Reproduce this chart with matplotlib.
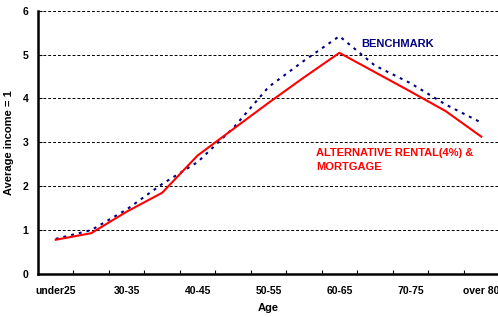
import matplotlib.pyplot as plt
import numpy as np

plt.rcParams['font.family'] = ['Liberation Sans', 'DejaVu Sans']

# age groups (x axis categories)
ages = ['under25', '25-30', '30-35', '35-40', '40-45', '45-50', '50-55',
        '55-60', '60-65', '65-70', '70-75', '75-80', 'over 80']

# values (average income = 1)
benchmark = [0.80, 1.00, 1.47, 2.05, 2.55, 3.32, 4.26, 4.86, 5.42, 4.75, 4.35, 3.86, 3.45]
alternative = [0.78, 0.93, 1.42, 1.85, 2.70, 3.30, 3.90, 4.48, 5.04, 4.60, 4.16, 3.71, 3.13]

x = np.arange(len(ages))

W, H = 498, 317
fig = plt.figure(figsize=(W / 100, H / 100), dpi=100)
ax = fig.add_axes([38 / W, 1 - 274 / H, 1 - 38 / W + 0.002, (274 - 10.7) / H])

# dashed grid lines at each unit
for yv in range(1, 7):
    ax.axhline(yv, color='black', lw=0.7, ls=(0, (3, 2)), zorder=1)

ax.plot(x, benchmark, color='#000080', lw=1.5, ls=(0, (1.4, 2.4)), zorder=3)
ax.plot(x, alternative, color='#ff0000', lw=1.5, zorder=4)

ax.set_xlim(-0.5, len(ages) - 0.5)
ax.set_ylim(0, 6)

# labels on every other category, tick marks on category boundaries
ax.set_xticks(x[::2])
ax.set_xticklabels(ages[::2], fontsize=7.5, fontweight='bold')
ax.tick_params(axis='x', which='major', length=0, pad=9)
ax.set_xticks(np.arange(len(ages) - 1) + 0.5, minor=True)
ax.tick_params(axis='x', which='minor', length=3, direction='in', width=0.8)

ax.set_yticks(range(0, 7))
ax.set_yticklabels([str(v) for v in range(0, 7)], fontsize=7.5, fontweight='bold')
ax.tick_params(axis='y', length=3, direction='in', pad=7)

ax.set_xlabel('Age', fontsize=8, fontweight='bold', labelpad=5)
ax.set_ylabel('Average income = 1', fontsize=8, fontweight='bold', labelpad=6)

for side in ['top', 'right']:
    ax.spines[side].set_visible(False)
ax.spines['left'].set_linewidth(1.8)
ax.spines['bottom'].set_linewidth(1.8)

# series labels placed in figure pixels (from top-left)
fig.text(361.5 / W, 1 - 44 / H, 'BENCHMARK', fontsize=8, fontweight='bold',
         color='#000080', va='center', ha='left')
fig.text(316 / W, 1 - 153 / H, 'ALTERNATIVE RENTAL(4%) &', fontsize=8,
         fontweight='bold', color='#ff0000', va='center', ha='left')
fig.text(316 / W, 1 - 167 / H, 'MORTGAGE', fontsize=8,
         fontweight='bold', color='#ff0000', va='center', ha='left')

fig.savefig('out.png', dpi=100)
